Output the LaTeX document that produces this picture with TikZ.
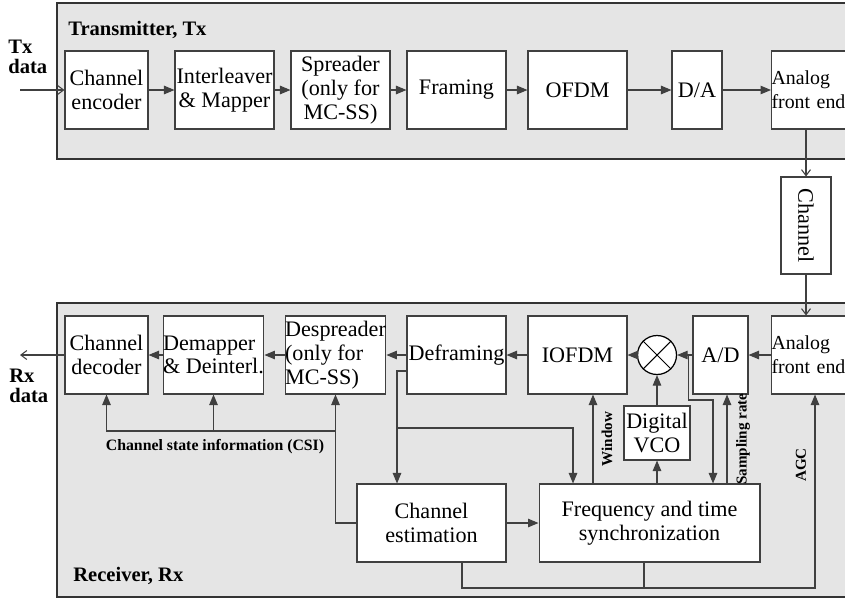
\documentclass[tikz,border=0pt]{standalone}
\usepackage{fontspec}
\setmainfont{Liberation Serif}
\usepackage{graphicx}
\usetikzlibrary{arrows.meta, positioning}

\tikzset{
  blk/.style={draw=black!75, fill=white, line width=0.6pt, inner sep=0pt,
    align=center, minimum height=1.56cm, font=\fontsize{12.6}{13.5}\selectfont},
  afe/.style={blk, anchor=west, align=left, text width=2cm, font=\fontsize{11.3}{13.5}\selectfont},
  arr/.style={draw=black!75, line width=0.6pt, -{Triangle[length=2.1mm,width=1.7mm]}},
  barb/.style={draw=black!75, line width=0.6pt, -{Straight Barb[length=1.2mm,width=1.8mm]}},
  wire/.style={draw=black!75, line width=0.6pt},
  sect/.style={draw=black!80, fill=black!10, line width=0.7pt},
  ttl/.style={font=\fontsize{11.7}{11.5}\selectfont\bfseries, inner sep=0pt, align=left},
  sig/.style={font=\fontsize{8.6}{9}\selectfont\bfseries, inner sep=0pt, rotate=90},
}

\begin{document}
\begin{tikzpicture}[x=0.02cm, y=-0.02cm]
    \useasboundingbox (0,0) rectangle (845,599);
    % Tx and Rx sections
    \draw[sect] (57,3) rectangle (900,159);
    \draw[sect] (57,303) rectangle (900,597);
    \node[ttl, anchor=west] (txttl) at (68,30) {Transmitter, Tx};
    \node[ttl, anchor=west] (rxttl) at (73,576) {Receiver, Rx};
    \node[ttl, anchor=west] (txd) at (8,57) {Tx\\data};
    \node[ttl, anchor=west] (rxd) at (9,386) {Rx\\data};

    % Transmitter chain
    \node[blk, minimum width=1.66cm] (tenc) at (106.5,90) {Channel\\encoder};
    \node[blk, minimum width=1.98cm] (tint) at (224.5,90) {Interleaver\\\& Mapper};
    \node[blk, minimum width=1.98cm] (tspr) at (340.5,90) {Spreader\\(only for\\MC-SS)};
    \node[blk, minimum width=1.98cm] (tfrm) at (456.5,90) {Framing};
    \node[blk, minimum width=1.98cm] (tofdm) at (577.5,90) {OFDM};
    \node[blk, minimum width=1cm] (tda) at (697,90) {D/A};
    \node[afe] (tafe) at (771,90) {Analog\\front end};

    % Channel
    \node[blk, minimum width=1cm, minimum height=1.94cm] (chan) at (806,225.5) {\rotatebox{-90}{Channel}};

    % Receiver chain
    \node[blk, minimum width=1.66cm] (rdec) at (106.5,355) {Channel\\decoder};
    \node[blk, minimum width=1.98cm, align=left] (rdem) at (213.5,355) {Demapper\\\& Deinterl.};
    \node[blk, minimum width=1.98cm, align=left] (rdsp) at (335.5,355) {Despreader\\(only for\\MC-SS)};
    \node[blk, minimum width=1.98cm] (rdfr) at (456.5,355) {Deframing};
    \node[blk, minimum width=1.98cm] (riofdm) at (577.5,355) {IOFDM};
    \node[draw, circle, fill=white, line width=0.7pt, minimum size=0.78cm] (mix) at (657,355) {};
    \draw[line width=0.6pt] (mix.north west) -- (mix.south east) (mix.north east) -- (mix.south west);
    \node[blk, minimum width=1.1cm] (rad) at (720.5,355) {A/D};
    \node[afe] (rafe) at (771,355) {Analog\\front end};

    % Estimation and synchronization
    \node[blk, minimum width=2.98cm] (cest) at (431.5,523) {Channel\\estimation};
    \node[blk, minimum width=4.42cm] (fsync) at (649.5,523) {Frequency and time\\synchronization};
    \node[blk, minimum width=1.32cm, minimum height=1.08cm] (vco) at (657,433) {Digital\\VCO};

    % data in and out
    \coordinate (txin) at (20,90);
    \coordinate (rxout) at (20,355);
    \draw[barb] (txin) -- (tenc.west);
    \draw[barb] (rdec.west) -- (rxout);

    \foreach \a/\b in {tenc/tint, tint/tspr, tspr/tfrm, tfrm/tofdm, tofdm/tda, tda/tafe}
        \draw[arr] (\a) -- (\b);
    \foreach \a/\b in {rafe/rad, rad/mix, mix/riofdm, riofdm/rdfr, rdfr/rdsp, rdsp/rdem, rdem/rdec}
        \draw[arr] (\a) -- (\b);

    \draw[barb] (chan.north |- tafe.south) -- (chan.north);
    \draw[barb] (chan.south) -- (chan.south |- rafe.north);

    % CSI feedback
    \draw[arr] (cest.west) -| (rdsp.south);
    \draw[arr] (rdsp.south |- 0,431) -| (rdec.south);
    \draw[arr] (rdem.south |- 0,431) -- (rdem.south);
    \node[font=\fontsize{9}{10}\selectfont\bfseries, inner sep=0pt] (csi) at (215,447) {Channel state information (CSI)};

    % from deframing
    \coordinate (dtap) at (397,428);
    \draw[arr] ([yshift=-0.32cm]rdfr.west) -| ([xshift=-0.69cm]cest.north);
    \draw[arr] (dtap) -| ([xshift=-1.53cm]fsync.north);
    \draw[arr] (cest) -- (fsync);

    % sync outputs
    \draw[arr] ([xshift=0.31cm]riofdm.south |- fsync.north) -- ([xshift=0.31cm]riofdm.south);
    \node[sig] (win) at (607,439) {Window};
    \draw[arr] (vco |- fsync.north) -- (vco);
    \draw[arr] (vco) -- (mix);
    \coordinate (adtap) at (713,400);
    \draw[arr] ([xshift=-0.08cm]rad.west) |- (adtap) -- (adtap |- fsync.north);
    \draw[arr] ([xshift=0.13cm]rad.south |- fsync.north) -- ([xshift=0.13cm]rad.south);
    \node[sig] (smp) at (743,439) {Sampling rate};

    % AGC loop
    \coordinate (agc) at (815,588);
    \draw[arr] ([xshift=0.61cm]cest.south) |- (agc) -- (agc |- rafe.south);
    \draw[wire] ([xshift=-0.11cm]fsync.south) -- ([xshift=-0.11cm]fsync.south |- agc);
    \node[sig] (agclbl) at (801,465) {AGC};
\end{tikzpicture}
\end{document}
